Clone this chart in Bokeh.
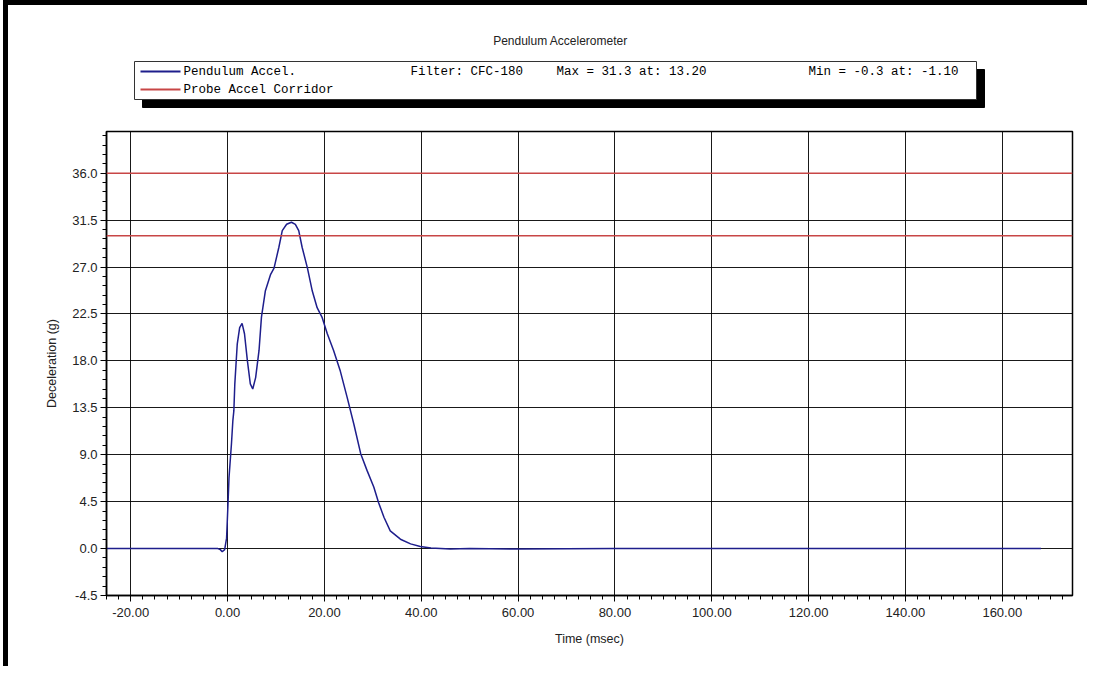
from bokeh.plotting import figure
from bokeh.models import FixedTicker, PrintfTickFormatter, Span, Range1d
from bokeh.layouts import column
from bokeh.core.properties import value
from bokeh.embed import file_html
from bokeh.resources import INLINE

# ---- data ----
time_ms = [-25.0, -10.0, -5.0, -2.0, -1.5, -1.1, -0.6, -0.2, 0.1, 0.3, 0.8, 1.1,
           1.3, 1.5, 2.0, 2.5, 3.0, 3.5, 4.1, 4.7, 5.2, 5.8, 6.5, 7.0, 7.8,
           8.9, 9.6, 10.6, 11.3, 12.2, 13.2, 14.0, 14.7, 15.4, 16.5, 17.5,
           18.5, 19.5, 20.6, 21.9, 23.3, 24.7, 26.1, 27.5, 28.8, 30.2, 31.2,
           32.3, 33.6, 35.7, 37.8, 39.8, 42.0, 46.0, 50.0, 60.0, 80.0, 100.0,
           120.0, 140.0, 160.0, 168.0]
accel_g = [0.0, 0.0, 0.0, 0.0, -0.1, -0.3, -0.1, 1.0, 4.4, 6.8, 10.0, 12.3,
           13.2, 15.8, 19.6, 21.2, 21.6, 20.6, 18.0, 15.8, 15.3, 16.4, 19.0,
           22.2, 24.7, 26.3, 26.9, 28.9, 30.5, 31.1, 31.3, 31.1, 30.5, 28.9,
           26.9, 24.7, 23.1, 22.2, 20.6, 19.0, 17.0, 14.5, 11.9, 9.1, 7.5,
           5.9, 4.4, 3.0, 1.7, 0.9, 0.45, 0.2, 0.05, -0.05, 0.0, -0.05, 0.0,
           0.0, 0.0, 0.0, 0.0, 0.0]
corridor_levels = [36.0, 30.0]

x_major_ticks = [-20, 0, 20, 40, 60, 80, 100, 120, 140, 160]
y_major_ticks = [-4.5, 0.0, 4.5, 9.0, 13.5, 18.0, 22.5, 27.0, 31.5, 36.0]
x_minor_ticks = [-25 + 2.5 * i for i in range(81)]
y_minor_ticks = [-4.5 + 0.9 * i for i in range(50)]

title_text = "Pendulum Accelerometer"
series_name = "Pendulum Accel."
corridor_name = "Probe Accel Corridor"
filter_text = "Filter: CFC-180"
max_text = "Max = 31.3 at: 13.20"
min_text = "Min = -0.3 at: -1.10"

BLUE = "#1e1e8c"
RED = "#c84646"
W = 1079

# ---------------- header (title + legend box) ----------------
# frame is aligned with the main plot frame (page x 106..1072)
h = figure(width=W, height=110, output_backend="svg", toolbar_location=None,
           x_range=Range1d(106, 1072), y_range=Range1d(115, 5),
           min_border_left=98, min_border_right=15, min_border_top=0,
           min_border_bottom=0, title=None)
h.axis.visible = False
h.grid.visible = False
h.outline_line_color = None
h.background_fill_color = "white"
h.border_fill_color = "white"

h.text(x=[560], y=[40], text=[title_text], text_align="center",
       text_baseline="middle", text_font=value("Liberation Sans"),
       text_font_size="12px", text_color="#222222")
h.quad(left=[142], right=[984], top=[69], bottom=[107],
       fill_color="black", line_color="black")
h.quad(left=[134], right=[976], top=[61], bottom=[99],
       fill_color="white", line_color="#333333", line_width=1)
h.segment(x0=[140, 140], y0=[71, 89], x1=[180, 180], y1=[71, 89],
          line_color=[BLUE, RED], line_width=2)
h.text(x=[183, 183, 410, 556], y=[71, 89, 71, 71],
       text=[series_name, corridor_name, filter_text, max_text],
       text_baseline="middle", text_font=value("Liberation Mono"),
       text_font_size="12.5px", text_color="black")
h.text(x=[958], y=[71], text=[min_text], text_align="right",
       text_baseline="middle", text_font=value("Liberation Mono"),
       text_font_size="12.5px", text_color="black")

# ---------------- main plot ----------------
p = figure(width=W, height=551, output_backend="svg", toolbar_location=None,
           x_range=Range1d(-25, 174.5), y_range=Range1d(-4.5, 40),
           min_border_left=98, min_border_right=15, min_border_top=16,
           min_border_bottom=71, title=None)
p.background_fill_color = "white"
p.border_fill_color = "white"
p.outline_line_color = "black"
p.outline_line_width = 1.5

for g in (p.xgrid, p.ygrid):
    g.grid_line_color = "black"
    g.grid_line_alpha = 0.9
    g.grid_line_width = 1

p.xaxis.ticker = FixedTicker(ticks=x_major_ticks, minor_ticks=x_minor_ticks)
p.yaxis.ticker = FixedTicker(ticks=y_major_ticks, minor_ticks=y_minor_ticks)
p.xaxis.formatter = PrintfTickFormatter(format="%.2f")
p.yaxis.formatter = PrintfTickFormatter(format="%.1f")
p.xaxis.axis_label = "Time (msec)"
p.yaxis.axis_label = "Deceleration (g)"
for ax in (p.xaxis, p.yaxis):
    ax.axis_line_color = "black"
    ax.axis_line_width = 1.5
    ax.major_tick_line_color = "black"
    ax.minor_tick_line_color = "black"
    ax.major_tick_out = 6
    ax.major_tick_in = 0
    ax.minor_tick_out = 4
    ax.minor_tick_in = 0
    ax.major_label_text_font = "Liberation Sans"
    ax.major_label_text_font_size = "13px"
    ax.major_label_text_color = "#222222"
    ax.axis_label_text_font = "Liberation Sans"
    ax.axis_label_text_font_size = "12.5px"
    ax.axis_label_text_font_style = "normal"
    ax.axis_label_text_color = "#222222"
p.xaxis.major_label_standoff = 6
p.yaxis.major_label_standoff = 3
p.xaxis.axis_label_standoff = 12
p.yaxis.axis_label_standoff = 10

for lvl in corridor_levels:
    p.add_layout(Span(location=lvl, dimension="width", line_color=RED,
                      line_width=1.5))

p.line(time_ms, accel_g, line_color=BLUE, line_width=1.5)

layout = column(h, p, spacing=0,
                styles={"border-left": "5px solid black",
                        "border-top": "5px solid black",
                        "margin-left": "3px"})
open("out.html", "w").write(file_html(layout, INLINE))
